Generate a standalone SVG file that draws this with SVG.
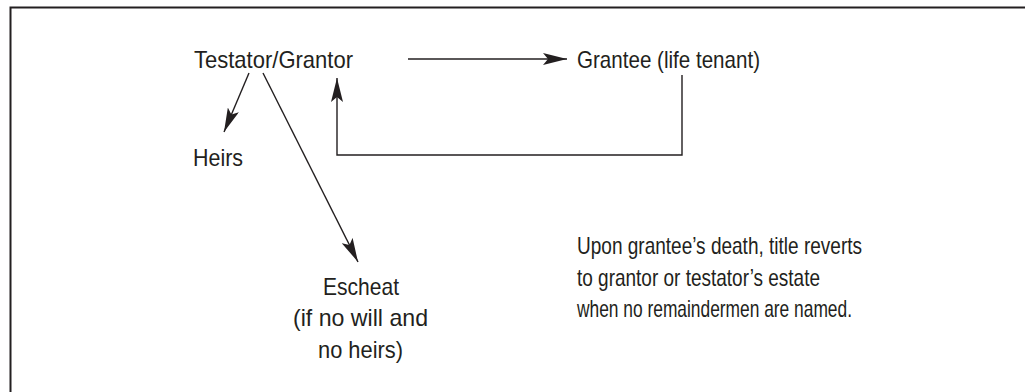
<svg xmlns="http://www.w3.org/2000/svg" width="1025" height="392" viewBox="0 0 1025 392">
  <style>
    .lbl { font-family: "Liberation Sans Narrow", "Liberation Sans", Arial, sans-serif; font-size: 24px; fill: #231f20; }
    .wire { fill: none; stroke: #231f20; stroke-width: 1.4; }
  </style>
  <defs>
    <marker id="head" viewBox="0 0 24 12" refX="24" refY="6" markerWidth="24" markerHeight="12" markerUnits="userSpaceOnUse" orient="auto">
      <path d="M0,0 L24,6 L0,12 L5,6 Z" fill="#231f20"/>
    </marker>
  </defs>

  <rect width="1025" height="392" fill="#ffffff"/>
  <!-- frame: only the top and left edges fall inside the page -->
  <path d="M10.5,400 L10.5,7.5 L1030,7.5" fill="none" stroke="#231f20" stroke-width="2"/>

  <g id="connectors">
    <line class="wire" x1="408" y1="59" x2="567" y2="59" marker-end="url(#head)"/>
    <polyline class="wire" points="682,75 682,155 337,155 337,78" marker-end="url(#head)"/>
    <line class="wire" x1="249" y1="73" x2="224" y2="132" marker-end="url(#head)"/>
    <line class="wire" x1="263" y1="73" x2="358" y2="262" marker-end="url(#head)"/>
  </g>

  <g id="testator-grantor">
    <text class="lbl" x="194" y="68" textLength="159" lengthAdjust="spacingAndGlyphs">Testator/Grantor</text>
  </g>
  <g id="grantee">
    <text class="lbl" x="577" y="68" textLength="183" lengthAdjust="spacingAndGlyphs">Grantee (life tenant)</text>
  </g>
  <g id="heirs">
    <text class="lbl" x="193" y="166" textLength="50" lengthAdjust="spacingAndGlyphs">Heirs</text>
  </g>
  <g id="escheat">
    <text class="lbl" x="323" y="295" textLength="76" lengthAdjust="spacingAndGlyphs">Escheat</text>
    <text class="lbl" x="293" y="326" textLength="135" lengthAdjust="spacingAndGlyphs">(if no will and</text>
    <text class="lbl" x="318" y="358" textLength="85" lengthAdjust="spacingAndGlyphs">no heirs)</text>
  </g>
  <g id="reversion-note">
    <text class="lbl" x="577" y="254" textLength="285" lengthAdjust="spacingAndGlyphs">Upon grantee’s death, title reverts</text>
    <text class="lbl" x="577" y="286" textLength="243" lengthAdjust="spacingAndGlyphs">to grantor or testator’s estate</text>
    <text class="lbl" x="577" y="317" textLength="275" lengthAdjust="spacingAndGlyphs">when no remaindermen are named.</text>
  </g>
</svg>
